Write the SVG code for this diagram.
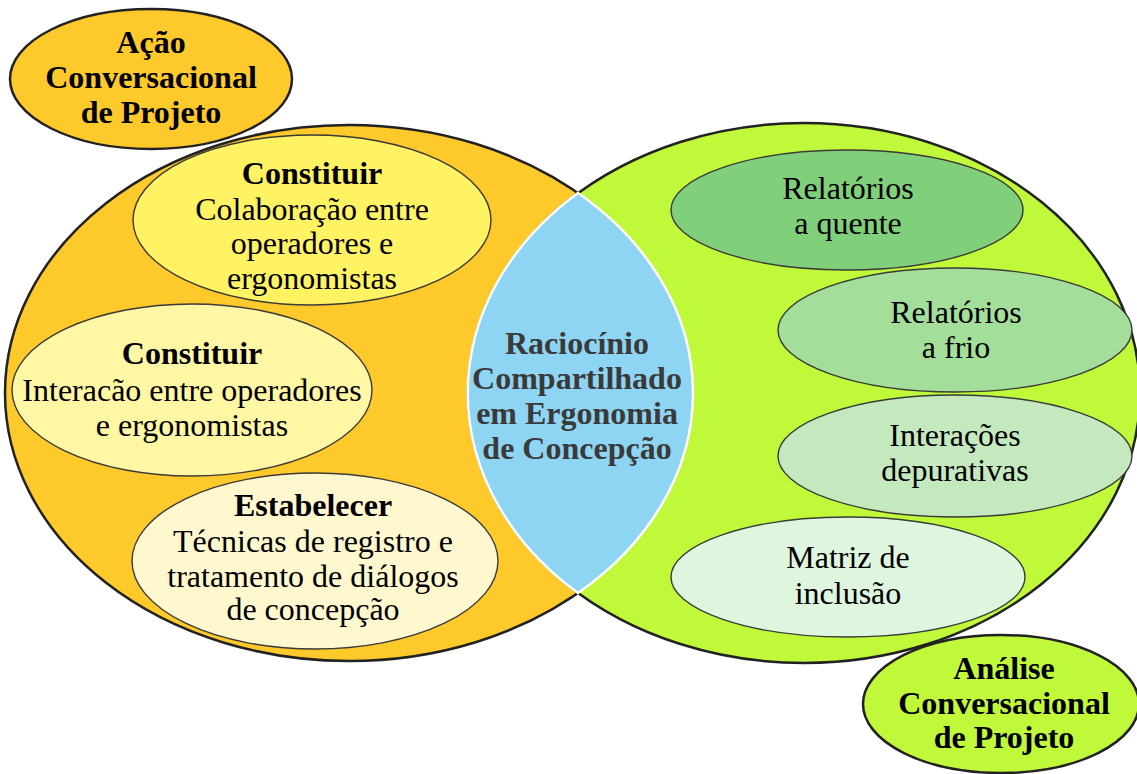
<svg xmlns="http://www.w3.org/2000/svg" width="1137" height="774" viewBox="0 0 1137 774">
<style>
.outer{stroke:#222;stroke-width:2.5}
.inner{stroke:#3a3a3a;stroke-width:1.4}
text{font-family:"Liberation Serif","Times New Roman",serif;font-size:32px;text-anchor:middle;fill:#000}
.b{font-weight:bold}
.lens{fill:#3a3a3a;font-weight:bold}
</style>
<rect width="1137" height="774" fill="#fff"/>
<g id="acao-big">
<ellipse cx="349" cy="393" rx="344" ry="268" fill="#FEC92A" class="outer"/>
</g>
<g id="analise-big">
<ellipse cx="804" cy="393" rx="336" ry="270" fill="#C0F83A" class="outer"/>
</g>
<g id="lens">
<path d="M578,193 A336,270 0 0 0 578,593 A344,268 0 0 0 578,193 Z" fill="#8ED5F3" stroke="#fff" stroke-width="2.5"/>
<text class="lens" x="577" y="354">Raciocínio</text>
<text class="lens" x="577" y="389">Compartilhado</text>
<text class="lens" x="577" y="424">em Ergonomia</text>
<text class="lens" x="577" y="459">de Concepção</text>
</g>
<g id="acao-title">
<ellipse cx="151" cy="79" rx="141" ry="70" fill="#FEC92A" class="outer"/>
<text class="b" x="151" y="53">Ação</text>
<text class="b" x="151" y="88">Conversacional</text>
<text class="b" x="151" y="123">de Projeto</text>
</g>
<g id="constituir1">
<ellipse cx="312" cy="220" rx="179" ry="85" fill="#FFF263" class="inner"/>
<text class="b" x="312" y="184">Constituir</text>
<text x="312" y="220">Colaboração entre</text>
<text x="312" y="254">operadores e</text>
<text x="312" y="289">ergonomistas</text>
</g>
<g id="constituir2">
<ellipse cx="192" cy="390" rx="180" ry="86" fill="#FFF7A3" class="inner"/>
<text class="b" x="192" y="364">Constituir</text>
<text x="192" y="401">Interacão entre operadores</text>
<text x="192" y="436">e ergonomistas</text>
</g>
<g id="estabelecer">
<ellipse cx="315" cy="561" rx="183" ry="88" fill="#FFF8CF" class="inner"/>
<text class="b" x="313" y="516">Estabelecer</text>
<text x="313" y="552">Técnicas de registro e</text>
<text x="313" y="587">tratamento de diálogos</text>
<text x="313" y="620">de concepção</text>
</g>
<g id="relatorios-quente">
<ellipse cx="847" cy="210" rx="176" ry="60" fill="#80CF7A" class="inner"/>
<text x="848" y="199">Relatórios</text>
<text x="848" y="234">a quente</text>
</g>
<g id="relatorios-frio">
<ellipse cx="955" cy="330" rx="177" ry="62" fill="#A3DE9A" class="inner"/>
<text x="956" y="323">Relatórios</text>
<text x="956" y="358">a frio</text>
</g>
<g id="interacoes">
<ellipse cx="955" cy="456" rx="177" ry="61" fill="#C4E9BE" class="inner"/>
<text x="955" y="446">Interações</text>
<text x="955" y="481">depurativas</text>
</g>
<g id="matriz">
<ellipse cx="848" cy="577" rx="177" ry="60" fill="#DEF5DE" class="inner"/>
<text x="848" y="568">Matriz de</text>
<text x="848" y="604">inclusão</text>
</g>
<g id="analise-title">
<ellipse cx="1001" cy="704" rx="138" ry="69" fill="#C0F83A" class="outer"/>
<text class="b" x="1004" y="679">Análise</text>
<text class="b" x="1004" y="714">Conversacional</text>
<text class="b" x="1004" y="748">de Projeto</text>
</g>
<g id="connectors"></g>
</svg>
